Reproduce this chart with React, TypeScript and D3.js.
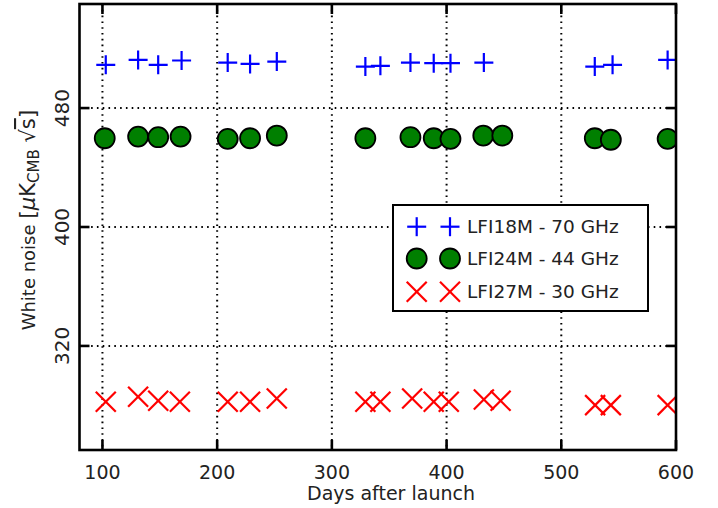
import React from "react";
import * as d3 from "d3";

// ---- Data ----
const xTicks = [100, 200, 300, 400, 500, 600];
const yTicks = [320, 400, 480];

const lfi18Days = [102.9, 131.1, 148.6, 169.0, 209.2, 228.7, 252.0, 329.2, 342.3, 368.5, 388.8, 403.4, 432.5, 529.2, 544.7, 592.7];
const lfi18Vals = [509.1, 512.4, 509.1, 512.0, 510.6, 509.7, 511.3, 507.9, 508.4, 510.6, 510.2, 510.2, 510.6, 507.9, 509.1, 512.4];

const lfi24Days = [102.0, 131.1, 148.6, 168.1, 209.2, 228.7, 252.0, 329.2, 368.5, 388.8, 403.4, 432.0, 448.6, 529.2, 543.2, 592.7];
const lfi24Vals = [459.7, 460.8, 460.4, 460.8, 459.3, 459.7, 461.5, 459.7, 460.4, 459.7, 459.3, 461.5, 461.5, 459.7, 458.7, 459.3];

const lfi27Days = [102.9, 131.1, 148.6, 167.5, 209.2, 228.7, 252.0, 329.2, 342.3, 370.0, 388.8, 401.9, 432.5, 447.1, 529.5, 543.2, 592.7];
const lfi27Vals = [282.4, 285.8, 283.1, 282.4, 282.4, 282.4, 284.7, 282.4, 282.4, 284.7, 282.4, 282.4, 284.0, 283.1, 280.2, 280.2, 280.2];

const seriesNames = ["LFI18M - 70 GHz", "LFI24M - 44 GHz", "LFI27M - 30 GHz"];

const W = 718, H = 508;
const L = 79.5, R = 676, T = 4, B = 450;
const FONT = "'DejaVu Sans', Verdana, sans-serif";
const TXT = "#222";

function Plus({ x, y, s = 9.5 }: { x: number; y: number; s?: number }) {
  return (
    <g stroke="#0000ff" strokeWidth={2.2} fill="none">
      <line x1={x - s} x2={x + s} y1={y} y2={y} />
      <line x1={x} x2={x} y1={y - s} y2={y + s} />
    </g>
  );
}
function Cross({ x, y, s = 10 }: { x: number; y: number; s?: number }) {
  return (
    <g stroke="#ff0000" strokeWidth={2.2} fill="none">
      <line x1={x - s} x2={x + s} y1={y - s} y2={y + s} />
      <line x1={x - s} x2={x + s} y1={y + s} y2={y - s} />
    </g>
  );
}
function Dot({ x, y }: { x: number; y: number }) {
  return <circle cx={x} cy={y} r={10} fill="#007f00" stroke="#000" strokeWidth={1.8} />;
}

export default function App() {
  const x = d3.scaleLinear().domain([80, 600]).range([L, R]);
  const y = d3.scaleLinear().domain([250, 550]).range([B, T]);

  const legX = 393, legY = 205, legW = 255, legH = 106;
  const rowY = [226.7, 258.5, 291.7];
  const mx = [416.7, 450];

  return (
    <svg width={W} height={H} style={{ position: "absolute", left: 0, top: 0, background: "#fff" }} fontFamily={FONT}>
      <defs>
        <clipPath id="plotClip">
          <rect x={L} y={T} width={R - L} height={B - T} />
        </clipPath>
      </defs>
      <rect x={0} y={0} width={W} height={H} fill="#fff" />
      {/* grid */}
      <g stroke="#000" strokeWidth={2} strokeDasharray="1.6,4.2" strokeLinecap="butt">
        {xTicks.map((t) => (
          <line key={"gx" + t} x1={x(t)} x2={x(t)} y1={T} y2={B} />
        ))}
        {yTicks.map((t) => (
          <line key={"gy" + t} x1={L} x2={R} y1={y(t)} y2={y(t)} />
        ))}
      </g>
      {/* data */}
      <g clipPath="url(#plotClip)">
        {lfi18Days.map((d, i) => (
          <Plus key={"p" + i} x={x(d)} y={y(lfi18Vals[i])} />
        ))}
        {lfi24Days.map((d, i) => (
          <Dot key={"c" + i} x={x(d)} y={y(lfi24Vals[i])} />
        ))}
        {lfi27Days.map((d, i) => (
          <Cross key={"x" + i} x={x(d)} y={y(lfi27Vals[i])} />
        ))}
      </g>
      {/* ticks */}
      <g stroke="#000" strokeWidth={2.6}>
        {xTicks.map((t) => (
          <g key={"tx" + t}>
            <line x1={x(t)} x2={x(t)} y1={B} y2={B - 10} />
            <line x1={x(t)} x2={x(t)} y1={T} y2={T + 10} />
          </g>
        ))}
        {yTicks.map((t) => (
          <g key={"ty" + t}>
            <line x1={L} x2={L + 10} y1={y(t)} y2={y(t)} />
            <line x1={R} x2={R - 10} y1={y(t)} y2={y(t)} />
          </g>
        ))}
      </g>
      {/* spines */}
      <rect x={L} y={T} width={R - L} height={B - T} fill="none" stroke="#000" strokeWidth={2.6} />
      {/* tick labels */}
      <g fill={TXT} fontSize={19}>
        {xTicks.map((t) => (
          <text key={"lx" + t} x={x(t)} y={479} textAnchor="middle">
            {d3.format("d")(t)}
          </text>
        ))}
        {yTicks.map((t) => (
          <text key={"ly" + t} transform={`translate(68.5,${y(t)}) rotate(-90)`} textAnchor="middle" fontSize={20}>
            {d3.format("d")(t)}
          </text>
        ))}
      </g>
      {/* axis labels */}
      <text x={391} y={500} textAnchor="middle" fontSize={19} fill={TXT}>
        Days after launch
      </text>
      <text transform={`translate(35,220) rotate(-90)`} textAnchor="middle" fontSize={18} fill={TXT}>
        White noise <tspan fontSize={22}>[</tspan>
        <tspan fontSize={21} fontStyle="italic">μ</tspan>
        <tspan fontSize={21}>K</tspan>
        <tspan fontSize={15} dy={4}>CMB</tspan>
        <tspan fontSize={21} dy={-4}> √</tspan>
        <tspan fontSize={21} style={{ textDecoration: "overline" }}>s</tspan>
        <tspan fontSize={22}>]</tspan>
      </text>
      {/* legend */}
      <rect x={legX} y={legY} width={legW} height={legH} fill="#fff" stroke="#000" strokeWidth={2} />
      {mx.map((m, k) => (
        <g key={"lm" + k}>
          <Plus x={m} y={rowY[0]} />
          <Dot x={m} y={rowY[1]} />
          <Cross x={m} y={rowY[2]} />
        </g>
      ))}
      <g fill={TXT} fontSize={18.5}>
        {seriesNames.map((n, i) => (
          <text key={n} x={467} y={rowY[i] + 6.5}>
            {n}
          </text>
        ))}
      </g>
    </svg>
  );
}
